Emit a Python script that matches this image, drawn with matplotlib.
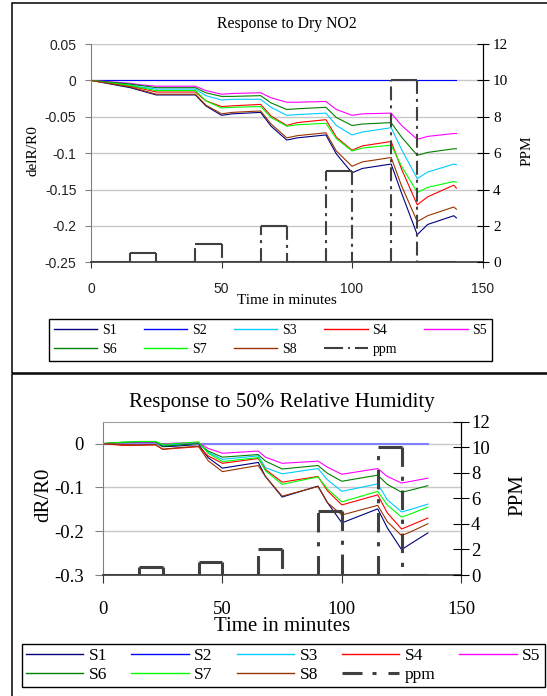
import matplotlib
matplotlib.use('Agg')
import matplotlib.pyplot as plt
from matplotlib.lines import Line2D
from matplotlib.patches import Rectangle

plt.rcParams['font.family'] = ['Liberation Serif', 'DejaVu Serif']
plt.rcParams['axes.unicode_minus'] = False
plt.rcParams['lines.scale_dashes'] = False

# ---- data: top chart (dry NO2) ----
t_top = [0, 15, 19, 25, 29, 40, 44, 50, 54, 65, 69, 75, 79, 90, 94, 100, 104, 115, 119, 125, 129, 139, 140]
top_s1 = [0, -0.010, -0.014, -0.020, -0.020, -0.020, -0.035, -0.048, -0.046, -0.044, -0.063, -0.082, -0.079, -0.075,
          -0.101, -0.127, -0.121, -0.115, -0.155, -0.212, -0.198, -0.186, -0.189]
top_s2 = [0] * len(t_top)
top_s3 = [0, -0.006, -0.009, -0.012, -0.012, -0.012, -0.021, -0.027, -0.026, -0.026, -0.037, -0.048, -0.047, -0.045,
          -0.062, -0.075, -0.071, -0.065, -0.095, -0.135, -0.126, -0.115, -0.116]
top_s4 = [0, -0.008, -0.011, -0.016, -0.016, -0.016, -0.028, -0.036, -0.035, -0.033, -0.049, -0.062, -0.058, -0.054,
          -0.078, -0.096, -0.090, -0.084, -0.122, -0.171, -0.160, -0.144, -0.148]
top_s5 = [0, -0.004, -0.006, -0.008, -0.008, -0.008, -0.014, -0.019, -0.018, -0.017, -0.024, -0.030, -0.030, -0.029,
          -0.040, -0.048, -0.046, -0.045, -0.062, -0.081, -0.077, -0.073, -0.073]
top_s6 = [0, -0.005, -0.007, -0.010, -0.010, -0.010, -0.017, -0.022, -0.022, -0.021, -0.031, -0.040, -0.039, -0.037,
          -0.051, -0.062, -0.060, -0.058, -0.078, -0.103, -0.099, -0.094, -0.094]
top_s7 = [0, -0.007, -0.010, -0.014, -0.014, -0.014, -0.028, -0.038, -0.037, -0.036, -0.051, -0.063, -0.061, -0.059,
          -0.080, -0.097, -0.093, -0.089, -0.118, -0.154, -0.147, -0.139, -0.140]
top_s8 = [0, -0.009, -0.013, -0.019, -0.019, -0.019, -0.034, -0.046, -0.044, -0.042, -0.060, -0.079, -0.076, -0.072,
          -0.097, -0.118, -0.112, -0.106, -0.145, -0.194, -0.186, -0.174, -0.177]
ppm_edges_top = [0, 15, 25, 40, 50, 65, 75, 90, 100, 115, 125, 140]
ppm_top = [0, 0.5, 0, 1, 0, 2, 0, 5, 0, 10, 0]

# ---- data: bottom chart (50% RH) ----
t_bot = [0, 8, 15, 22, 25, 30, 40, 44, 50, 65, 68, 75, 90, 94, 100, 115, 119, 125, 129, 136]
bot_s1 = [0, 0.001, 0.002, 0.002, -0.007, -0.006, -0.002, -0.032, -0.056, -0.043, -0.075, -0.122, -0.097, -0.135,
          -0.181, -0.149, -0.192, -0.242, -0.228, -0.204]
bot_s2 = [0] * len(t_bot)
bot_s3 = [0, 0.002, 0.003, 0.003, -0.004, -0.003, 0.001, -0.020, -0.036, -0.028, -0.055, -0.069, -0.057, -0.083,
          -0.109, -0.092, -0.128, -0.156, -0.150, -0.138]
bot_s4 = [0, -0.004, -0.004, -0.003, -0.013, -0.011, -0.007, -0.028, -0.045, -0.034, -0.059, -0.088, -0.075, -0.108,
          -0.140, -0.117, -0.158, -0.195, -0.186, -0.170]
bot_s5 = [0, 0.002, 0.003, 0.003, -0.001, 0.001, 0.002, -0.011, -0.022, -0.017, -0.031, -0.045, -0.040, -0.054,
          -0.070, -0.057, -0.075, -0.090, -0.086, -0.079]
bot_s6 = [0, 0.003, 0.004, 0.004, -0.006, -0.004, 0.0, -0.017, -0.031, -0.025, -0.040, -0.058, -0.050, -0.068,
          -0.086, -0.072, -0.093, -0.111, -0.106, -0.096]
bot_s7 = [0, 0.003, 0.005, 0.005, -0.002, 0.0, 0.004, -0.022, -0.041, -0.032, -0.062, -0.093, -0.076, -0.104,
          -0.133, -0.109, -0.140, -0.168, -0.160, -0.145]
bot_s8 = [0, -0.002, -0.003, -0.002, -0.013, -0.010, -0.006, -0.039, -0.064, -0.050, -0.075, -0.120, -0.098, -0.135,
          -0.163, -0.141, -0.178, -0.210, -0.201, -0.183]
ppm_edges_bot = [0, 15, 25, 40, 50, 65, 75, 90, 100, 115, 125, 136]
ppm_bot = [0, 0.6, 0, 1, 0, 2, 0, 5, 0, 10, 0]

labels = ['S1', 'S2', 'S3', 'S4', 'S5', 'S6', 'S7', 'S8']
colors = ['#000080', '#0000ff', '#00ccff', '#ff0000', '#ff00ff', '#008000', '#00ff00', '#993300']
PPM_COLOR = '#404040'

W, H = 547, 696
fig = plt.figure(figsize=(W / 100, H / 100), dpi=100)

# outer frames of the two pasted charts
fig.patches.append(Rectangle((12 / W, 1 - 373 / H), 1, 370 / H, transform=fig.transFigure,
                             fill=False, edgecolor='black', lw=1.1))
fig.patches.append(Rectangle((12 / W, -0.1), 1, 0.1 + 1 - 374 / H, transform=fig.transFigure,
                             fill=False, edgecolor='black', lw=1.1))


def draw_ppm(axr, edges, levels, lw, dashes):
    # flat parts solid, the steps dash-dot (as the spreadsheet drew them)
    for i, lev in enumerate(levels):
        axr.plot([edges[i], edges[i + 1]], [lev, lev], color=PPM_COLOR, lw=lw, solid_capstyle='butt')
        if i > 0:
            axr.plot([edges[i], edges[i]], [levels[i - 1], lev], color=PPM_COLOR, lw=lw,
                     linestyle=(0, dashes), dash_capstyle='butt')


def fmt(v):
    return '%g' % round(v, 3) if v != 0 else '0'


# ================= top chart =================
ax1 = fig.add_axes([91 / W, 1 - 262.3 / H, 391.5 / W, 218.3 / H])
ax1r = ax1.twinx()
for ser, lab, col in zip([top_s1, top_s2, top_s3, top_s4, top_s5, top_s6, top_s7, top_s8], labels, colors):
    ax1.plot(t_top, ser, color=col, lw=0.8, label=lab)
draw_ppm(ax1r, ppm_edges_top, ppm_top, 1.5, (10, 3.6, 2.2, 3.6))

ax1.set_xlim(0, 150)
ax1.set_ylim(-0.25, 0.05)
ax1r.set_ylim(0, 12)
yt = [0.05, 0, -0.05, -0.1, -0.15, -0.2, -0.25]
ax1.set_yticks(yt, [fmt(v) for v in yt], fontfamily='Liberation Sans', fontsize=10, color='#222222')
ax1.set_xticks([0, 50, 100, 150], ['0', '50', '100', '150'], fontfamily='Liberation Sans', fontsize=10,
               color='#222222')
ax1r.set_yticks(range(0, 13, 2), [str(v) for v in range(0, 13, 2)], fontsize=11)
ax1.grid(axis='y', color='#c8c8c8', lw=1)
ax1.set_axisbelow(True)
ax1.spines['top'].set_visible(False)
ax1r.spines['top'].set_visible(False)
ax1.spines['left'].set_color('#808080')
ax1.spines['bottom'].set_color('#333333')
ax1.spines['bottom'].set_linewidth(1.2)
ax1r.spines['left'].set_visible(False)
ax1r.spines['bottom'].set_visible(False)
ax1.tick_params(axis='y', direction='out', length=4.5, color='#808080', pad=6)
ax1.tick_params(axis='x', direction='out', length=4.5, color='#333333', pad=10)
ax1r.tick_params(axis='y', direction='inout', length=9, color='black', pad=3)
ax1.set_title('Response to Dry NO2', fontsize=11.3, y=1.0916, va='center', pad=0)
ax1.set_xlabel('Time in minutes', fontsize=11, va='center')
ax1.xaxis.set_label_coords(0.5, -0.1727)
ax1.set_ylabel('delR/R0', fontsize=11, va='center', ha='center')
ax1.yaxis.set_label_coords(-0.148, 0.51)
ax1r.set_ylabel('PPM', fontsize=11, va='center', ha='center')
ax1r.yaxis.set_label_coords(1.1137, 0.51)

# ================= bottom chart =================
ax2 = fig.add_axes([103 / W, 1 - 575 / H, 358.3 / W, 153.3 / H])
ax2r = ax2.twinx()
bot_colors = list(colors)
bot_colors[1] = '#8080ff'
for ser, lab, col in zip([bot_s1, bot_s2, bot_s3, bot_s4, bot_s5, bot_s6, bot_s7, bot_s8], labels, bot_colors):
    ax2.plot(t_bot, ser, color=col, lw=1.5 if lab == 'S2' else 0.8)
draw_ppm(ax2r, ppm_edges_bot, ppm_bot, 2.2, (14, 7, 3, 7))

ax2.set_xlim(0, 150)
ax2.set_ylim(-0.3, 0.05)
ax2r.set_ylim(0, 12)
yt2 = [0, -0.1, -0.2, -0.3]
ax2.set_yticks(yt2, [fmt(v) for v in yt2], fontsize=13.5)
ax2.set_xticks([0, 50, 100, 150], ['0', '50', '100', '150'], fontsize=13.5)
ax2r.set_yticks(range(0, 13, 2), [str(v) for v in range(0, 13, 2)], fontsize=13.5)
ax2.grid(axis='y', color='#c8c8c8', lw=1)
ax2.set_axisbelow(True)
ax2.spines['top'].set_color('#a0a0a0')
ax2r.spines['top'].set_visible(False)
ax2.spines['left'].set_color('#808080')
ax2.spines['bottom'].set_color('#333333')
ax2.spines['bottom'].set_linewidth(1.2)
ax2r.spines['left'].set_visible(False)
ax2r.spines['bottom'].set_visible(False)
ax2.tick_params(axis='y', direction='out', length=6, color='#808080', pad=8)
ax2.tick_params(axis='x', direction='out', length=6, color='#333333', pad=13)
ax2r.tick_params(axis='y', direction='inout', length=12, color='black', pad=1)
ax2.set_title('Response to 50% Relative Humidity', fontsize=15, y=1.1285, va='center', pad=0)
ax2.set_xlabel('Time in minutes', fontsize=15, va='center')
ax2.xaxis.set_label_coords(0.5, -0.339)
ax2.set_ylabel('dR/R0', fontsize=15, va='center', ha='center')
ax2.yaxis.set_label_coords(-0.166, 0.52)
ax2r.set_ylabel('PPM', fontsize=15, va='center', ha='center')
ax2r.yaxis.set_label_coords(1.158, 0.52)

# ================= legends (row-major order via column fill) =================
order = [0, 5, 1, 6, 2, 7, 3, 'ppm', 4]


def legend_handles(cols, ppm_lw, ppm_dash, lws):
    hs, ls = [], []
    for k in order:
        if k == 'ppm':
            hs.append(Line2D([], [], color=PPM_COLOR, lw=ppm_lw, linestyle=(0, ppm_dash)))
            ls.append('ppm')
        else:
            hs.append(Line2D([], [], color=cols[k], lw=lws))
            ls.append(labels[k])
    return hs, ls


h1, l1 = legend_handles(colors, 1.5, (13.7, 3.6, 1.4, 3.6), 1.0)
fig.legend(h1, l1, ncol=5, mode='expand', loc='center', bbox_to_anchor=(49 / W, 1 - 363 / H, 443 / W, 46 / H),
           borderaxespad=0, fancybox=False, edgecolor='black', framealpha=1, fontsize=10,
           handlelength=3.1, handletextpad=0.36, borderpad=0.35, labelspacing=0.45)

h2, l2 = legend_handles(colors, 2.2, (14.4, 7.2, 2.9, 8.6), 1.0)
fig.legend(h2, l2, ncol=5, mode='expand', loc='center',
           bbox_to_anchor=(21.6 / W, 1 - 689.3 / H, 523.4 / W, 47.6 / H),
           borderaxespad=0, fancybox=False, edgecolor='black', framealpha=1, fontsize=12.5,
           handlelength=3.3, handletextpad=0.32, borderpad=0.25, labelspacing=0.15)

fig.savefig('out.png', dpi=100)
